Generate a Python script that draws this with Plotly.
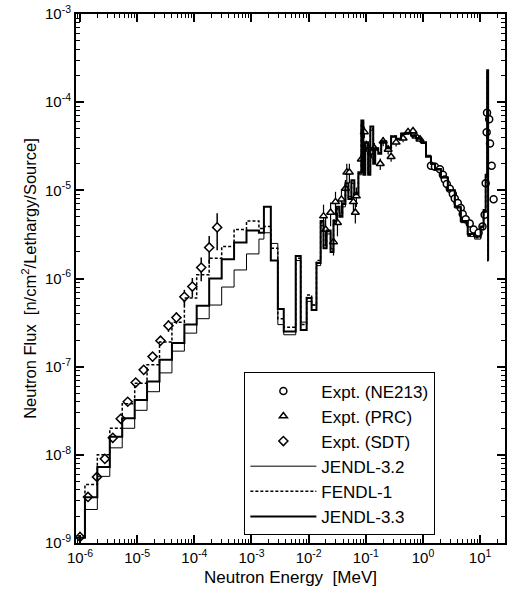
import plotly.graph_objects as go

# ---------------- data ----------------
# group boundaries (MeV) of the calculated histograms
edges = [7.41e-7, 1.22e-6, 2.01e-6, 3.32e-6, 5.48e-6, 9.05e-6, 1.49e-5, 2.46e-5, 4.06e-5,
         6.70e-5, 1.10e-4, 1.82e-4, 3.01e-4, 4.96e-4, 8.18e-4, 1.35e-3,
         1.65e-3, 2.18e-3, 2.89e-3, 3.67e-3, 5.94e-3, 7.26e-3, 9.23e-3, 0.01127, 0.01371,
         0.0162, 0.0182, 0.0206, 0.0242, 0.0272, 0.0307, 0.0346, 0.039, 0.044, 0.0496,
         0.056, 0.063, 0.0742, 0.0836, 0.0906, 0.098, 0.110, 0.120, 0.135, 0.146, 0.165,
         0.186, 0.228, 0.277, 0.339, 0.414, 0.506, 0.618, 0.755, 0.922, 1.13, 1.38, 1.62,
         2.06, 2.72, 3.6, 4.58, 6.06, 8.02, 10.2, 11.5, 12.5, 13.3, 13.8, 13.9]

jendl33 = [1.15e-9, 3.3e-9, 7.3e-9, 1.6e-8, 2.6e-8, 4.2e-8, 6.8e-8, 1.2e-7, 1.86e-7,
           3.0e-7, 4.9e-7, 1.0e-6, 1.65e-6, 2.56e-6, 3.5e-6,
           3.3e-6, 6.5e-6, 1.6e-6, 4.5e-7, 2.5e-7, 1.8e-6, 2.6e-7, 6.0e-7, 4.4e-7,
           1.5e-6, 4.5e-6, 2.2e-6, 3.5e-6, 2.0e-6, 4.5e-6, 6.5e-6, 5.0e-6, 7.0e-6, 1.2e-5,
           8.0e-6, 1.3e-5, 9.0e-6, 1.6e-5, 6.2e-5, 1.5e-5, 3.5e-5, 1.5e-5, 5.3e-5, 2.0e-5,
           3.0e-5, 2.6e-5, 3.6e-5, 3.0e-5, 4.1e-5, 3.8e-5, 4.4e-5, 4.5e-5, 4.2e-5, 3.9e-5,
           3.5e-5, 2.4e-5, 2.0e-5, 1.75e-5, 1.4e-5, 1.0e-5, 6.5e-6, 4.5e-6, 3.2e-6, 3.0e-6,
           3.9e-6, 6.0e-6, 1.5e-5, 2.3e-4, 1.6e-6]

jendl32 = [1.15e-9, 2.4e-9, 5.7e-9, 1.2e-8, 2.0e-8, 3.2e-8, 5.2e-8, 8.5e-8, 1.5e-7,
           2.4e-7, 3.5e-7, 5.0e-7, 8.0e-7, 1.25e-6, 1.9e-6,
           2.8e-6, 3.3e-6, 2.5e-6, 3.0e-7, 2.3e-7, 1.6e-6, 3.2e-7, 5.5e-7, 5.0e-7,
           1.4e-6, 4.0e-6, 2.4e-6, 3.2e-6, 2.2e-6, 4.2e-6, 6.0e-6, 5.5e-6, 6.5e-6, 1.1e-5,
           8.5e-6, 1.2e-5, 9.5e-6, 1.5e-5, 5.5e-5, 1.6e-5, 3.2e-5, 1.6e-5, 4.8e-5, 2.1e-5,
           2.9e-5, 2.7e-5, 3.5e-5, 3.1e-5, 4.0e-5, 3.9e-5, 4.3e-5, 4.4e-5, 4.1e-5, 3.8e-5,
           3.4e-5, 2.5e-5, 2.0e-5, 1.7e-5, 1.4e-5, 1.0e-5, 6.3e-6, 4.3e-6, 3.0e-6, 2.8e-6,
           3.6e-6, 5.6e-6, 1.4e-5, 2.1e-4, 1.6e-6]

fendl1 = [1.2e-9, 4.6e-9, 1.0e-8, 2.0e-8, 3.8e-8, 6.5e-8, 1.05e-7, 1.9e-7, 3.2e-7,
          6.0e-7, 1.1e-6, 1.7e-6, 2.3e-6, 3.6e-6, 4.5e-6,
          3.7e-6, 3.9e-6, 2.2e-6, 3.5e-7, 2.8e-7, 1.7e-6, 3.0e-7, 6.5e-7, 5.0e-7,
          1.6e-6, 4.3e-6, 2.3e-6, 3.4e-6, 2.1e-6, 4.6e-6, 6.2e-6, 5.2e-6, 7.2e-6, 1.15e-5,
          8.2e-6, 1.25e-5, 9.2e-6, 1.55e-5, 5.8e-5, 1.55e-5, 3.4e-5, 1.55e-5, 5.0e-5, 2.05e-5,
          3.0e-5, 2.65e-5, 3.6e-5, 3.05e-5, 4.1e-5, 3.85e-5, 4.4e-5, 4.5e-5, 4.2e-5, 3.9e-5,
          3.5e-5, 2.45e-5, 2.0e-5, 1.75e-5, 1.4e-5, 1.0e-5, 6.4e-6, 4.4e-6, 3.1e-6, 2.9e-6,
          3.8e-6, 5.8e-6, 1.45e-5, 2.2e-4, 1.6e-6]

# Expt. (SDT)
sdt_E = [1.00e-6, 1.38e-6, 1.98e-6, 2.72e-6, 3.75e-6, 5.16e-6, 6.84e-6, 9.42e-6, 1.30e-5,
         1.86e-5, 2.56e-5, 3.53e-5, 4.86e-5, 6.70e-5, 9.23e-5, 1.32e-4, 1.82e-4, 2.51e-4]
sdt_F = [1.17e-9, 3.33e-9, 5.62e-9, 9.0e-9, 1.56e-8, 2.56e-8, 4.0e-8, 6.6e-8, 9.2e-8,
         1.30e-7, 1.97e-7, 2.92e-7, 3.6e-7, 6.2e-7, 8.1e-7, 1.33e-6, 2.25e-6, 3.8e-6]
sdt_rel = [0.15, 0.1, 0.1, 0.1, 0.1, 0.1, 0.1, 0.1, 0.1, 0.12, 0.12, 0.15, 0.15, 0.2,
           0.25, 0.3, 0.35, 0.45]

# Expt. (PRC)
prc_E = [0.0182, 0.0198, 0.0242, 0.0272, 0.0295, 0.0319, 0.0375, 0.044, 0.0465, 0.0516,
         0.0607, 0.0656, 0.0684, 0.0836, 0.0942, 0.102, 0.125, 0.141, 0.179, 0.201, 0.246,
         0.277, 0.339, 0.449, 0.548, 0.670, 0.755, 0.887]
prc_F = [5.1e-6, 3.6e-6, 5.6e-6, 2.6e-6, 7.4e-6, 4.3e-6, 7.9e-6, 1.05e-5, 1.6e-5, 1.6e-5,
         7.4e-6, 5.6e-6, 8.6e-6, 2.25e-5, 4.6e-5, 3.2e-5, 2.7e-5, 3.0e-5, 2.0e-5, 3.6e-5,
         2.9e-5, 2.4e-5, 3.5e-5, 3.9e-5, 4.6e-5, 4.7e-5, 4.1e-5, 3.8e-5]
prc_rel = [0.35, 0.35, 0.3, 0.3, 0.3, 0.3, 0.3, 0.25, 0.25, 0.25, 0.25, 0.25, 0.25, 0.2,
           0.15, 0.15, 0.15, 0.15, 0.15, 0.12, 0.12, 0.12, 0.1, 0.1, 0.08, 0.08, 0.08, 0.08]

# Expt. (NE213)
ne_E = [1.38, 1.62, 1.98, 2.23, 2.41, 2.61, 2.95, 3.33, 3.6, 4.06, 4.58, 4.96, 5.6, 6.57,
        7.7, 9.4, 11.0, 12.0, 12.5, 13.0, 13.2, 14.4, 14.9, 15.9, 17.2]
ne_F = [1.9e-5, 1.85e-5, 1.73e-5, 1.5e-5, 1.33e-5, 1.18e-5, 1.04e-5, 9.1e-6, 8.1e-6,
        7.2e-6, 6.3e-6, 5.4e-6, 4.7e-6, 4.2e-6, 3.6e-6, 3.3e-6, 3.9e-6, 5.3e-6, 1.2e-5,
        4.56e-5, 7.6e-5, 6.4e-5, 3.4e-5, 1.9e-5, 7.9e-6]

# tick labels
x_tickvals = [1e-6, 1e-5, 1e-4, 1e-3, 1e-2, 1e-1, 1e0, 1e1]
x_ticktext = ["10<sup>-6</sup>", "10<sup>-5</sup>", "10<sup>-4</sup>", "10<sup>-3</sup>",
              "10<sup>-2</sup>", "10<sup>-1</sup>", "10<sup>0</sup>", "10<sup>1</sup>"]
y_tickvals = [1e-9, 1e-8, 1e-7, 1e-6, 1e-5, 1e-4, 1e-3]
y_ticktext = ["10<sup>-9</sup>", "10<sup>-8</sup>", "10<sup>-7</sup>", "10<sup>-6</sup>",
              "10<sup>-5</sup>", "10<sup>-4</sup>", "10<sup>-3</sup>"]

# ---------------- figure ----------------
FONT = "Liberation Sans, Arial, Helvetica, sans-serif"


def steps(e, v):
    return list(e), list(v) + [v[-1]]


fig = go.Figure()

mk = dict(color="white", line=dict(color="black", width=1.5))

fig.add_trace(go.Scatter(
    x=ne_E, y=ne_F, mode="markers", name="Expt. (NE213)",
    marker=dict(symbol="circle", size=7, **mk),
    error_y=dict(type="data", array=[f * 0.05 for f in ne_F], color="black",
                 thickness=1.2, width=0)))
fig.add_trace(go.Scatter(
    x=prc_E, y=prc_F, mode="markers", name="Expt. (PRC)",
    marker=dict(symbol="triangle-up", size=7, **mk),
    error_y=dict(type="data", array=[f * r for f, r in zip(prc_F, prc_rel)],
                 color="black", thickness=1.2, width=0)))
fig.add_trace(go.Scatter(
    x=sdt_E, y=sdt_F, mode="markers", name="Expt. (SDT)",
    marker=dict(symbol="diamond", size=7, **mk),
    error_y=dict(type="data", array=[f * r for f, r in zip(sdt_F, sdt_rel)],
                 color="black", thickness=1.5, width=0)))

x, y = steps(edges, jendl32)
fig.add_trace(go.Scatter(x=x, y=y, mode="lines", line_shape="hv", name="JENDL-3.2",
                         line=dict(color="black", width=1)))
x, y = steps(edges, fendl1)
fig.add_trace(go.Scatter(x=x, y=y, mode="lines", line_shape="hv", name="FENDL-1",
                         line=dict(color="black", width=1.5, dash="3px,2px")))
x, y = steps(edges, jendl33)
fig.add_trace(go.Scatter(x=x, y=y, mode="lines", line_shape="hv", name="JENDL-3.3",
                         line=dict(color="black", width=2)))

axis_common = dict(
    type="log", showline=True, linecolor="black", linewidth=2, mirror="ticks",
    ticks="inside", ticklen=8, tickwidth=1.5, tickcolor="black",
    showgrid=False, zeroline=False,
    tickfont=dict(family=FONT, size=15, color="black"),
    minor=dict(ticks="inside", ticklen=4, tickwidth=1, tickcolor="black",
               dtick="D1", showgrid=False),
)

fig.update_layout(
    width=510, height=603,
    margin=dict(l=76, r=3, t=14, b=60),
    paper_bgcolor="white", plot_bgcolor="white",
    font=dict(family=FONT, color="black"),
    xaxis=dict(range=[-6.07, 1.435], tickmode="array", tickvals=x_tickvals,
               ticktext=x_ticktext,
               title=dict(text="Neutron Energy  [MeV]", font=dict(size=17), standoff=6),
               **axis_common),
    yaxis=dict(range=[-9, -3], tickmode="array", tickvals=y_tickvals,
               ticktext=y_ticktext,
               title=dict(text="Neutron Flux  [n/cm<sup>2</sup>/Lethargy/Source]",
                          font=dict(size=16.5), standoff=4),
               **axis_common),
    showlegend=True,
    legend=dict(x=0.392, y=0.323, xanchor="left", yanchor="top",
                bgcolor="white", bordercolor="black", borderwidth=1.2,
                font=dict(family=FONT, size=17, color="black"),
                itemwidth=66, tracegroupgap=0),
)

fig.write_html("out.html")
